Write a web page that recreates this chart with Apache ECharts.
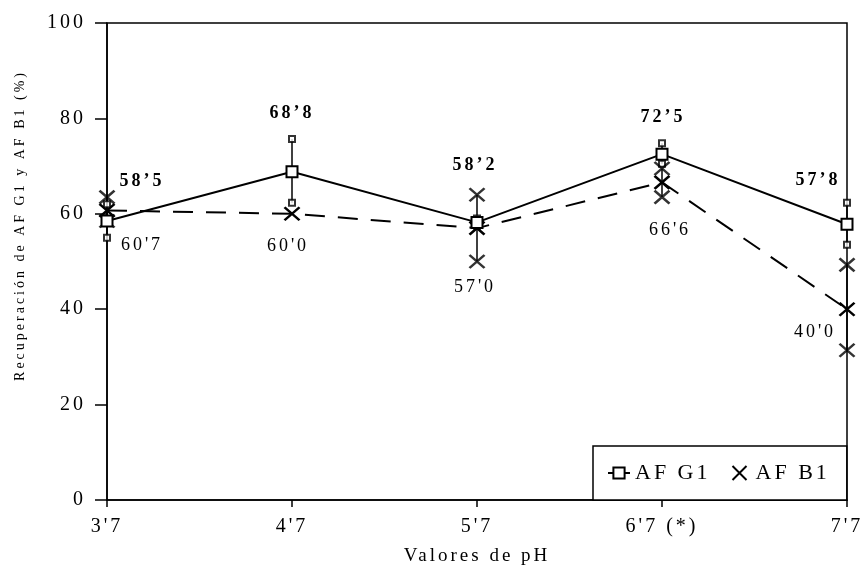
<!DOCTYPE html>
<html lang="es">
<head>
    <meta http-equiv="Content-Type" content="text/html; charset=utf-8"/>
    <title>Recuperación de AF G1 y AF B1</title>
    <script type="text/javascript" src="https://cdn.jsdelivr.net/npm/echarts@6/dist/echarts.min.js"></script>
</head>
<style>
    * {
        margin: 0;
        padding: 0;
    }
    html, body {
        width: 100%;
        height: 100%;
        background: #fff;
    }
    .main {
        width: 862px;
        height: 580px;
    }
</style>
<body>
<div id="main" class="main"></div>
</body>
<script type="text/javascript">
    // valores de pH (eje X)
    var categorias = ["3'7", "4'7", "5'7", "6'7 (*)", "7'7"];
    var ticksY = [0, 20, 40, 60, 80, 100];

    // AF G1: media y extremos de la barra de error
    var g1Media = [58.5, 68.8, 58.2, 72.5, 57.8];
    var g1Min = [55.0, 62.3, 57.5, 70.5, 53.5];
    var g1Max = [62.0, 75.7, 59.0, 74.8, 62.3];

    // AF B1: media y extremos de la barra de error
    var b1Media = [60.7, 60.0, 57.0, 66.6, 40.0];
    var b1Min = [58.5, 60.0, 50.0, 63.5, 31.4];
    var b1Max = [63.5, 60.0, 64.0, 69.5, 49.3];

    // desplazamiento de las etiquetas respecto al punto (px)
    var offG1 = [[35, -40], [0, -58], [-2, -57], [1, -37], [-29, -44]];
    var offB1 = [[35, 35], [-4, 32], [-2, 59], [8, 48], [-32, 23]];

    var fuente = 'Liberation Serif';
    var aspa = 'path://M0,0L10,10M10,0L0,10';

    // el original tiene los textos muy espaciados: echarts no tiene letterSpacing,
    // así que se lo ponemos al canvas justo antes de escribir
    var espaciado = '3px';
    ['fillText', 'strokeText'].forEach(function (fn) {
        var original = CanvasRenderingContext2D.prototype[fn];
        CanvasRenderingContext2D.prototype[fn] = function () {
            if ('letterSpacing' in this) {
                this.letterSpacing = espaciado;
            }
            return original.apply(this, arguments);
        };
    });

    function etiqueta(v, apostrofe) {
        return v.toFixed(1).replace('.', apostrofe);
    }

    function datosMedia(medias, offs, apostrofe) {
        return medias.map(function (v, i) {
            return {
                value: v,
                label: {offset: offs[i], formatter: etiqueta(v, apostrofe)}
            };
        });
    }

    function extremos(mins, maxs) {
        var out = [];
        for (var i = 0; i < mins.length; i++) {
            if (maxs[i] > mins[i]) {
                out.push([i, mins[i]]);
                out.push([i, maxs[i]]);
            }
        }
        return out;
    }

    function barras(mins, maxs) {
        return mins.map(function (v, i) {
            return [i, v, maxs[i]];
        });
    }

    function dibujaBarra(params, api) {
        var a = api.coord([api.value(0), api.value(1)]);
        var b = api.coord([api.value(0), api.value(2)]);
        return {
            type: 'line',
            shape: {x1: a[0], y1: a[1], x2: b[0], y2: b[1]},
            style: {stroke: '#000', lineWidth: 1.5}
        };
    }

    var chart = echarts.init(document.getElementById('main'));

    var option = {
        backgroundColor: '#fff',
        animation: false,
        textStyle: {fontFamily: fuente, color: '#000'},
        grid: {
            left: 107, right: 15, top: 23, bottom: 80,
            containLabel: false,
            outerBoundsMode: 'none',
            show: true, borderColor: '#000', borderWidth: 1.5, backgroundColor: 'transparent'
        },
        legend: {
            data: [{name: 'AF G1'}, {name: 'AF B1', icon: aspa}],
            left: 593,
            bottom: 80,
            padding: [16, 32, 16, 14],
            itemGap: 36,
            itemWidth: 22,
            itemHeight: 14,
            borderColor: '#000',
            borderWidth: 1.5,
            backgroundColor: '#fff',
            textStyle: {fontFamily: fuente, fontSize: 22, color: '#000'}
        },
        xAxis: {
            type: 'category',
            data: categorias,
            boundaryGap: false,
            name: 'Valores de pH',
            nameLocation: 'middle',
            nameGap: 47,
            nameTextStyle: {fontFamily: fuente, fontSize: 19, color: '#000'},
            axisLine: {lineStyle: {color: '#000', width: 1.5}},
            axisTick: {show: true, length: 7, lineStyle: {color: '#000', width: 1.5}},
            axisLabel: {fontFamily: fuente, fontSize: 20, color: '#000', margin: 17},
            splitLine: {show: false}
        },
        yAxis: {
            type: 'value',
            min: ticksY[0],
            max: ticksY[ticksY.length - 1],
            interval: ticksY[1] - ticksY[0],
            name: 'Recuperación de AF G1 y AF B1 (%)',
            nameLocation: 'middle',
            nameGap: 80,
            nameTextStyle: {fontFamily: fuente, fontSize: 14, color: '#000', padding: [0, 0, 0, 72]},
            axisLine: {show: true, lineStyle: {color: '#000', width: 1.5}},
            axisTick: {show: true, length: 12, lineStyle: {color: '#000', width: 1.5}},
            axisLabel: {fontFamily: fuente, fontSize: 20, color: '#000', margin: 21},
            splitLine: {show: false}
        },
        series: [
            {
                // barras de error AF G1
                type: 'custom',
                renderItem: dibujaBarra,
                data: barras(g1Min, g1Max),
                z: 2,
                silent: true
            },
            {
                // barras de error AF B1
                type: 'custom',
                renderItem: dibujaBarra,
                data: barras(b1Min, b1Max),
                z: 2,
                silent: true
            },
            {
                // extremos AF G1
                type: 'scatter',
                data: extremos(g1Min, g1Max),
                symbol: 'emptyRect',
                symbolSize: 6,
                itemStyle: {color: '#000', borderColor: '#000', borderWidth: 1.5},
                z: 3,
                silent: true
            },
            {
                // extremos AF B1
                type: 'scatter',
                data: extremos(b1Min, b1Max),
                symbol: aspa,
                symbolSize: [15, 13],
                itemStyle: {color: '#000', borderColor: '#000', borderWidth: 2.5},
                z: 3,
                silent: true
            },
            {
                name: 'AF B1',
                type: 'line',
                data: datosMedia(b1Media, offB1, "'"),
                symbol: aspa,
                symbolSize: [15, 13],
                itemStyle: {color: '#000', borderColor: '#000', borderWidth: 2.5},
                lineStyle: {color: '#000', width: 2, type: [20, 13]},
                label: {
                    show: true, position: 'inside',
                    fontFamily: fuente, fontSize: 18, color: '#000'
                },
                z: 4
            },
            {
                name: 'AF G1',
                type: 'line',
                data: datosMedia(g1Media, offG1, '\u2019'),
                symbol: 'emptyRect',
                symbolSize: 11,
                itemStyle: {color: '#000', borderColor: '#000', borderWidth: 1.5},
                lineStyle: {color: '#000', width: 2},
                label: {
                    show: true, position: 'inside',
                    fontFamily: fuente, fontSize: 18, fontWeight: 'bold', color: '#000'
                },
                z: 5
            }
        ]
    };
    chart.setOption(option);
</script>
</html>
